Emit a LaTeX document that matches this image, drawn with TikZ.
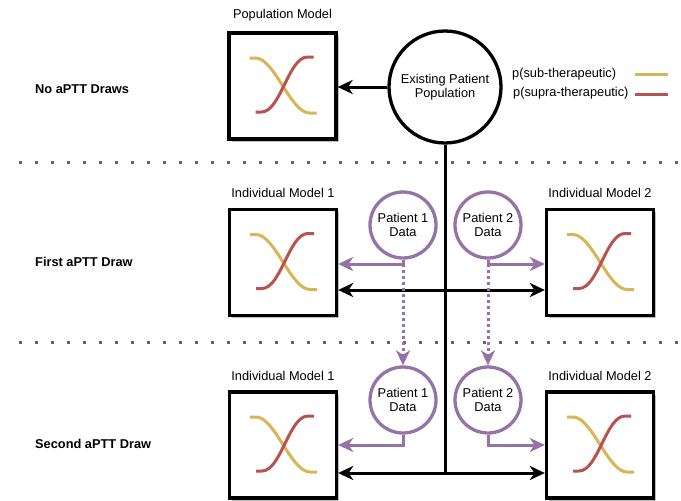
\documentclass[tikz,border=0pt]{standalone}
\usepackage{fontspec}
\setmainfont{Liberation Sans}
\usetikzlibrary{arrows.meta,positioning,shadows}

\definecolor{subyel}{HTML}{D6B656}
\definecolor{supred}{HTML}{B85450}
\definecolor{datapurp}{HTML}{9673A6}
\definecolor{sepgray}{HTML}{666666}

\tikzset{
  modelbox/.style={draw,line width=3.3pt,fill=white,minimum width=107pt,minimum height=106pt,
    drop shadow={shadow xshift=2.5pt,shadow yshift=-2.5pt,fill=black,opacity=0.25}},
  popcircle/.style={circle,draw,line width=3.3pt,fill=white,minimum size=112pt,inner sep=0pt,align=center},
  datacircle/.style={circle,draw=datapurp,line width=3.3pt,fill=white,minimum size=66pt,inner sep=0pt,align=center},
  lbl/.style={font=\fontsize{12.8}{14.5}\selectfont,inner sep=0pt},
  rowlbl/.style={font=\fontsize{12.8}{14.5}\selectfont\bfseries,anchor=west,inner sep=0pt},
  tip/.style={-{Stealth[length=15pt,width=14pt,inset=4.5pt]}},
  blk/.style={tip,line width=3pt},
  dbl/.style={{Stealth[length=15pt,width=14pt,inset=4.5pt]}-{Stealth[length=15pt,width=14pt,inset=4.5pt]},line width=3pt},
  pa/.style={tip,draw=datapurp,line width=3pt},
  pdot/.style={tip,draw=datapurp,line width=3pt,dash pattern=on 3pt off 3pt},
  sepline/.style={draw=sepgray,line width=3pt,dash pattern=on 3pt off 13pt},
  suby/.style={draw=subyel,line width=3pt},
  supr/.style={draw=supred,line width=3pt}
}

% the two probability curves inside a model box
\newcommand{\sigpair}[1]{%
  \begin{scope}[shift={(#1.center)}]
    \draw[suby] (-33,-28) -- (-27,-28) .. controls (-8,-28) and (8,27) .. (27,27) -- (34,27);
    \draw[supr] (-27,26) -- (-21,26) .. controls (-2,26) and (6,-29) .. (25,-29) -- (31,-29);
  \end{scope}}

\begin{document}
\begin{tikzpicture}[x=1pt,y=-1pt,font=\fontsize{12.8}{14.5}\selectfont]
  \useasboundingbox (0,0) rectangle (681,501);

  % separators
  \draw[sepline] (19,162) -- (681,162);
  \draw[sepline] (19,342) -- (681,342);

  % row labels
  \node[rowlbl] (row0) at (35,89) {No aPTT Draws};
  \node[rowlbl] (row1) at (35,262) {First aPTT Draw};
  \node[rowlbl] (row2) at (35,444) {Second aPTT Draw};

  % no draws
  \node[modelbox] (popbox) at (282.5,86) {};
  \node[lbl,above=10pt of popbox] (poplbl) {Population Model};
  \node[popcircle] (existing) at (445,87) {Existing Patient\\Population};
  \draw[blk] (existing.west) -- (existing.west -| popbox.east);

  % legend
  \node[lbl,anchor=west] (legsub) at (512,74) {p(sub-therapeutic)};
  \node[lbl,anchor=west] (legsup) at (513,93) {p(supra-therapeutic)};
  \draw[suby] (635,74) -- (668,74);
  \draw[supr] (635,94) -- (668,94);

  % first draw
  \node[modelbox] (ind1a) at (283,262.5) {};
  \node[modelbox] (ind2a) at (600,262.5) {};
  \node[lbl,above=10pt of ind1a] (ind1alb) {Individual Model 1};
  \node[lbl,above=10pt of ind2a] (ind2alb) {Individual Model 2};
  \node[datacircle] (pat1a) at (403,225) {Patient 1\\Data};
  \node[datacircle] (pat2a) at (488,225) {Patient 2\\Data};

  % second draw
  \node[modelbox] (ind1b) at (283,445) {};
  \node[modelbox] (ind2b) at (600,445) {};
  \node[lbl,above=10pt of ind1b] (ind1blb) {Individual Model 1};
  \node[lbl,above=10pt of ind2b] (ind2blb) {Individual Model 2};
  \node[datacircle] (pat1b) at (403,400) {Patient 1\\Data};
  \node[datacircle] (pat2b) at (488,400) {Patient 2\\Data};

  \sigpair{popbox}
  \sigpair{ind1a}
  \sigpair{ind2a}
  \sigpair{ind1b}
  \sigpair{ind2b}

  % trunk from the population
  \coordinate (j1) at (445,290);
  \coordinate (j2) at (445,473);
  \draw[line width=3pt] (existing.south) -- (j2);
  \draw[dbl] (ind1a.east |- j1) -- (ind2a.west |- j1);
  \draw[dbl] (ind1b.east |- j2) -- (ind2b.west |- j2);

  % patient data
  \coordinate (k1) at (403,264);
  \coordinate (k2) at (488,264);
  \coordinate (k3) at (403,445);
  \coordinate (k4) at (488,445);
  \draw[pa] (pat1a.south) -- (k1) -- (ind1a.east |- k1);
  \draw[pa] (pat2a.south) -- (k2) -- (ind2a.west |- k2);
  \draw[pa] (pat1b.south) -- (k3) -- (ind1b.east |- k3);
  \draw[pa] (pat2b.south) -- (k4) -- (ind2b.west |- k4);
  \draw[pdot] (k1) -- (pat1b.north);
  \draw[pdot] (k2) -- (pat2b.north);
\end{tikzpicture}
\end{document}
